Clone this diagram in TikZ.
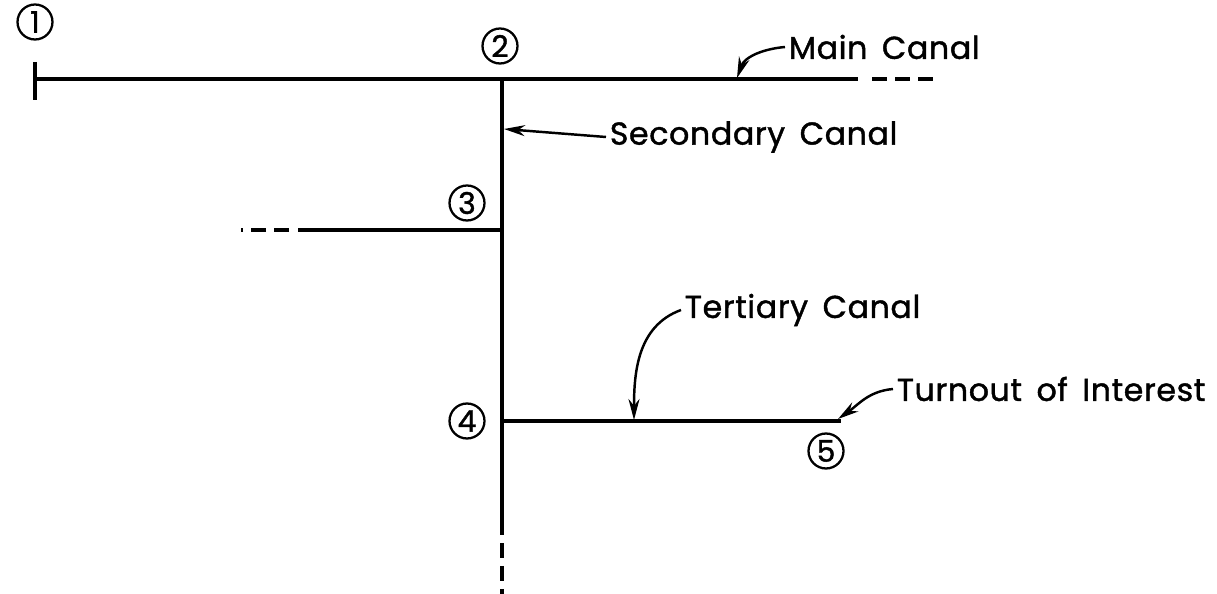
\documentclass[tikz,border=0pt]{standalone}
\usepackage{fontspec}
\setmainfont{Poppins}
\newfontfamily\lblfont{Poppins}[RawFeature={embolden=1.3}, LetterSpace=2, WordSpace=1.6]
\usetikzlibrary{arrows.meta,positioning}

\begin{document}
\begin{tikzpicture}[x=0.02cm,y=-0.02cm,
    canal/.style={line width=2.3pt},
    contd/.style={line width=2.3pt, dash pattern=on 0.3cm off 0.16cm},
    pointnum/.style={draw, circle, line width=1.3pt, minimum size=0.7cm, inner sep=0pt, font=\lblfont\fontsize{17}{17}\selectfont},
    lbl/.style={anchor=west, inner sep=2pt, font=\lblfont\fontsize{18}{21}\selectfont},
    pointer/.style={line width=1.4pt, -{Stealth[length=0.42cm, width=0.22cm]}}
]
    \useasboundingbox (0,0) rectangle (1217,594);

    % canal junctions
    \coordinate (c1) at (35,79);
    \coordinate (c2) at (502,79);
    \coordinate (c3) at (502,230);
    \coordinate (c4) at (502,421);
    \coordinate (c5) at (841,421);
    \coordinate (mainend) at (858,79);
    \coordinate (secend) at (502,535);
    \coordinate (sideend) at (298,230);

    % numbered points
    \node[pointnum] (n1) at (35,22) {1};
    \node[pointnum] (n2) at (500,46) {2};
    \node[pointnum] (n3) at (467,203) {3};
    \node[pointnum] (n4) at (467,421) {4};
    \node[pointnum] (n5) at (826,451) {5};

    % canals
    \draw[canal] (35,62) -- (35,100);
    \draw[canal] (c1) -- (mainend);
    \draw[contd] (872,79) -- (937,79);
    \draw[canal] (c2) -- (secend);
    \draw[contd] (502,543) -- (502,596);
    \draw[canal] (c3) -- (sideend);
    \draw[contd] (289,230) -- (241,230);
    \draw[canal] (c4) -- (c5);

    % labels
    \node[lbl] (mainlbl) at (785,47) {Main Canal};
    \node[lbl] (seclbl) at (606,137) {Secondary Canal};
    \node[lbl] (terlbl) at (681,310) {Tertiary Canal};
    \node[lbl] (turnlbl) at (893,389) {Turnout of Interest};

    % pointers
    \coordinate (mainpt) at (737,78);
    \coordinate (secpt) at (504,129);
    \coordinate (terpt) at (634,420);
    \coordinate (turnpt) at (838,419);
    \draw[pointer] (mainlbl.west) to[out=185,in=70] (mainpt);
    \draw[pointer] (seclbl.west) -- (secpt);
    \draw[pointer] (terlbl.west) to[out=200,in=90] (terpt);
    \draw[pointer] (turnlbl.west) to[out=185,in=35] (turnpt);
\end{tikzpicture}
\end{document}
